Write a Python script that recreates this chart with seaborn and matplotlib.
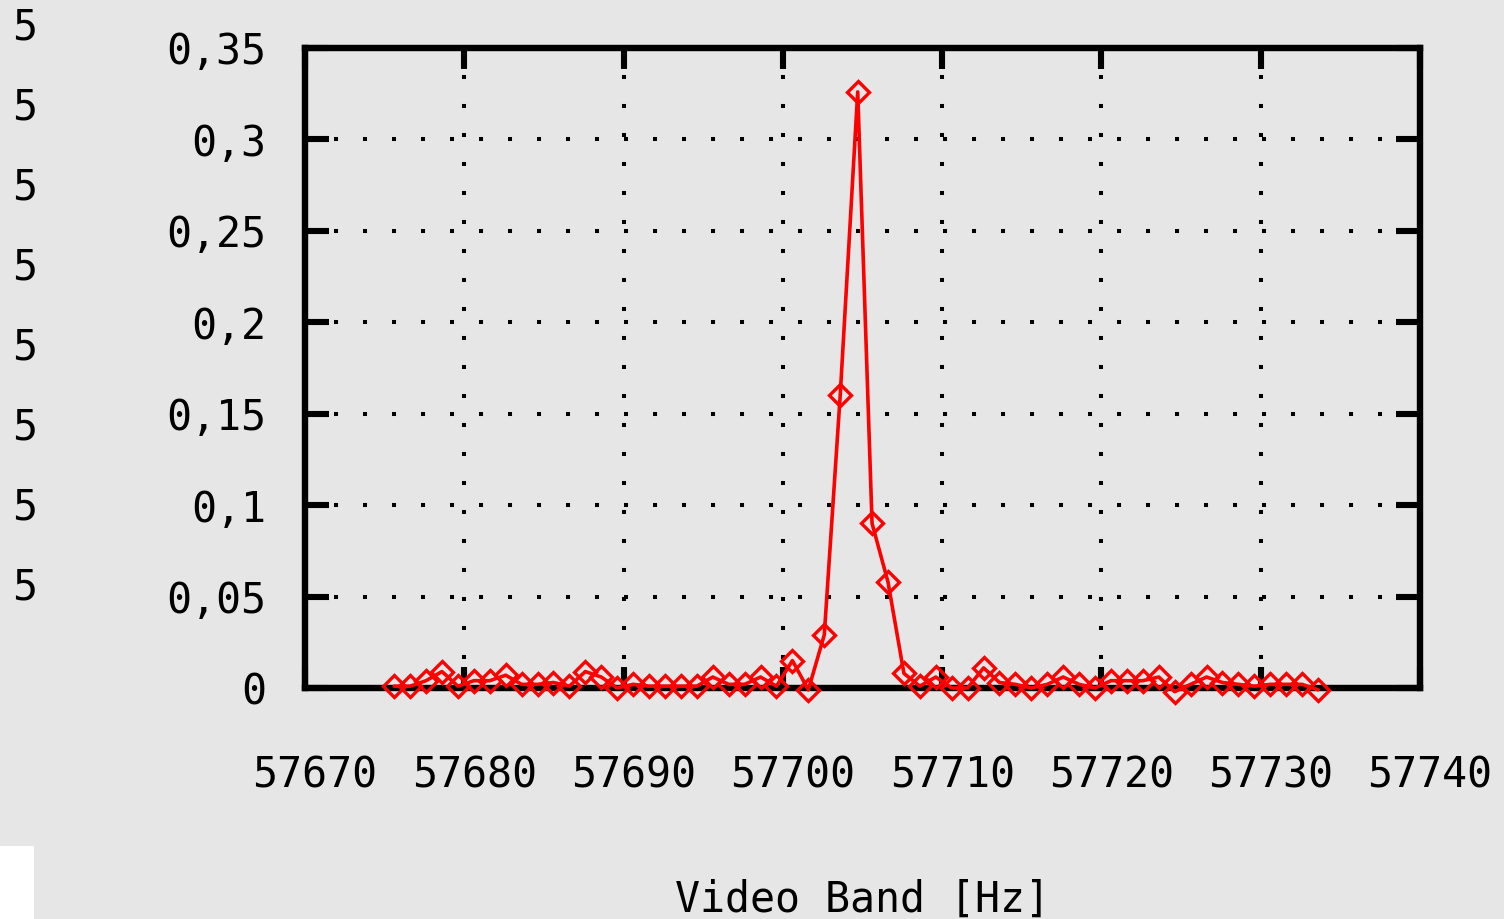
import matplotlib
matplotlib.use("Agg")
import matplotlib.pyplot as plt
import seaborn as sns
import pandas as pd
from matplotlib.patches import Rectangle
from matplotlib.transforms import ScaledTranslation

# ---- data ----
freq_hz = [
    57675.6, 57676.6, 57677.6, 57678.6, 57679.6, 57680.6, 57681.6, 57682.6,
    57683.6, 57684.6, 57685.6, 57686.6, 57687.6, 57688.6, 57689.6, 57690.6,
    57691.6, 57692.6, 57693.6, 57694.6, 57695.6, 57696.6, 57697.6, 57698.6,
    57699.6, 57700.6, 57701.6, 57702.6, 57703.6, 57704.7, 57705.6, 57706.6,
    57707.6, 57708.6, 57709.6, 57710.6, 57711.6, 57712.6, 57713.6, 57714.6,
    57715.6, 57716.6, 57717.6, 57718.6, 57719.6, 57720.6, 57721.6, 57722.6,
    57723.6, 57724.6, 57725.6, 57726.6, 57727.6, 57728.6, 57729.6, 57730.6,
    57731.6, 57732.6, 57733.6,
]
amplitude = [
    0.001, 0.001, 0.004, 0.009, 0.001, 0.004, 0.004, 0.007,
    0.002, 0.002, 0.003, 0.001, 0.009, 0.006, 0.000, 0.002,
    0.001, 0.001, 0.001, 0.001, 0.006, 0.002, 0.002, 0.006,
    0.001, 0.015, -0.001, 0.029, 0.160, 0.326, 0.090, 0.058,
    0.008, 0.001, 0.006, 0.000, 0.000, 0.011, 0.003, 0.002,
    0.000, 0.002, 0.006, 0.002, 0.000, 0.004, 0.004, 0.004,
    0.006, -0.002, 0.002, 0.006, 0.003, 0.002, 0.001, 0.002,
    0.002, 0.002, -0.001,
]
x_ticks = [57670, 57680, 57690, 57700, 57710, 57720, 57730, 57740]
x_tick_labels = ["57670", "57680", "57690", "57700", "57710", "57720", "57730", "57740"]
y_ticks = [0, 0.05, 0.1, 0.15, 0.2, 0.25, 0.3, 0.35]
y_tick_labels = ["0", "0,05", "0,1", "0,15", "0,2", "0,25", "0,3", "0,35"]
x_label = "Video Band [Hz]"
left_fragments = ["5", "5", "5", "5", "5", "5", "5", "5"]

df = pd.DataFrame({"freq": freq_hz, "amp": amplitude})

# ---- style ----
sns.set_style("white")
bg = "#e6e6e6"
plt.rcParams["font.family"] = ["DejaVu Sans Mono", "DejaVu Sans"]

fig = plt.figure(figsize=(15.04, 9.19), dpi=100, facecolor=bg)
ax = fig.add_axes([305 / 1504, 1 - 688 / 919, (1420 - 305) / 1504, 640 / 919])
ax.set_facecolor(bg)

sns.lineplot(
    data=df, x="freq", y="amp", ax=ax, sort=False, estimator=None,
    color="#ff0000", linewidth=2.6, marker="D", markersize=11.5,
    markerfacecolor="none", markeredgecolor="#ff0000", markeredgewidth=2.4,
    zorder=5, clip_on=False,
)

ax.set_xlim(57670, 57740)
ax.set_ylim(0, 0.35)
ax.set_xticks(x_ticks)
ax.set_xticklabels(x_tick_labels)
ax.set_yticks(y_ticks)
ax.set_yticklabels(y_tick_labels)

ax.grid(True, color="black", linestyle=(0, (1, 6.2)), linewidth=2.9)
ax.set_axisbelow(True)

for sp in ax.spines.values():
    sp.set_visible(True)
    sp.set_color("black")
    sp.set_linewidth(4.6)
    sp.set_zorder(4)

ax.tick_params(axis="y", which="major", direction="in", length=17, width=4.4,
               left=True, right=True, labelsize=30, pad=28, colors="black")
ax.tick_params(axis="x", which="major", direction="in", length=15, width=4.4,
               bottom=True, top=True, labelsize=30, pad=48, colors="black")

# x tick labels sit a little to the right of their ticks in the reference
shift = ScaledTranslation(10 / 100, 0, fig.dpi_scale_trans)
for lbl in ax.get_xticklabels():
    lbl.set_transform(lbl.get_transform() + shift)

ax.set_xlabel(x_label, fontsize=30, color="black")
ax.set_ylabel("")
ax.xaxis.label.set_va("center")
ax.xaxis.set_label_coords(0.5, (688 - 900) / 640)

# cut-off labels on the far left of the image
frag_y = [28, 108, 188, 268, 348, 428, 508, 588]
for txt, yy in zip(left_fragments, frag_y):
    fig.text(25 / 1504, 1 - yy / 919, txt, ha="center", va="center",
             fontsize=30, color="black")

# white block at bottom-left corner
fig.patches.append(Rectangle((0, 0), 34 / 1504, (919 - 846) / 919,
                             transform=fig.transFigure, facecolor="white",
                             edgecolor="none", zorder=0))

fig.savefig("out.png", dpi=100, facecolor=bg)
